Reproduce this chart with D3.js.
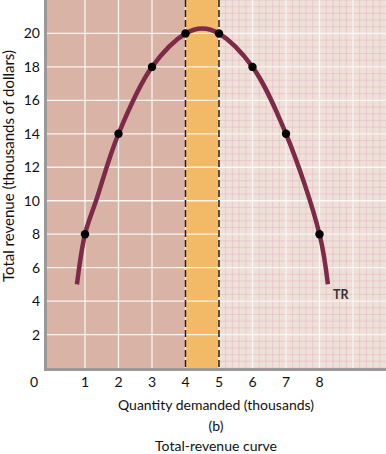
<!DOCTYPE html>
<html>
<head>
<meta charset="utf-8">
<script src="https://cdn.jsdelivr.net/npm/d3@7"></script>
<style>
  body { margin: 0; background: #fff; }
  text { font-family: Lato, "Open Sans", sans-serif; fill: #111; }
</style>
</head>
<body>
<script>
// canvas size
var width = 386
var height = 454

// marked points on the TR curve (quantity, revenue)
const quantities = [1, 2, 3, 4, 5, 6, 7, 8];
const revenues = [8, 14, 18, 20, 20, 18, 14, 8];

// the drawn curve
const curveQ = [0.76, 1, 1.33, 2, 3, 4, 4.5, 5, 6, 7, 8, 8.25];
const curveTR = [5, 8, 10, 14, 18, 20, 20.3, 20, 18, 14, 8, 5];

const xTicks = [1, 2, 3, 4, 5, 6, 7, 8];
const yTicks = [2, 4, 6, 8, 10, 12, 14, 16, 18, 20];

// elastic / unit elastic / inelastic zones
const bandEdges = [4, 5];

const svg = d3.select('body').append('svg')
  .attr('width', width)
  .attr('height', height)

// plot box (not "top": that one is window.top)
var pLeft = 46, pRight = 386, pTop = 0, pBottom = 368

var x = d3.scaleLinear().domain([-0.164, 9.985]).range([pLeft, pRight])
var y = d3.scaleLinear().domain([0, 22]).range([pBottom, pTop])

var defs = svg.append('defs')
defs.append('clipPath').attr('id', 'plot')
  .append('rect').attr('x', pLeft).attr('y', pTop).attr('width', pRight - pLeft).attr('height', pBottom - pTop)

var plot = svg.append('g').attr('clip-path', 'url(#plot)')

// backgrounds
plot.append('rect')
  .attr('x', pLeft).attr('y', pTop)
  .attr('width', x(bandEdges[0]) - pLeft).attr('height', pBottom - pTop)
  .style('fill', '#d9b3a5')
plot.append('rect')
  .attr('x', x(bandEdges[0])).attr('y', pTop)
  .attr('width', x(bandEdges[1]) - x(bandEdges[0])).attr('height', pBottom - pTop)
  .style('fill', '#f2ba66')
plot.append('rect')
  .attr('x', x(bandEdges[1])).attr('y', pTop)
  .attr('width', pRight - x(bandEdges[1])).attr('height', pBottom - pTop)
  .style('fill', '#eee1d7')

// fine pink grid on the right part
var minorX = d3.range(bandEdges[1], 10.01, 0.2)
var minorY = d3.range(0, 22.01, 0.4)
plot.selectAll('.mx').data(minorX).enter().append('line')
  .attr('x1', d => x(d)).attr('x2', d => x(d))
  .attr('y1', pTop).attr('y2', pBottom)
  .style('stroke', '#e9b3cb').style('stroke-width', 0.9).style('opacity', 0.6)
plot.selectAll('.my').data(minorY).enter().append('line')
  .attr('x1', x(bandEdges[1])).attr('x2', pRight)
  .attr('y1', d => y(d)).attr('y2', d => y(d))
  .style('stroke', '#e9b3cb').style('stroke-width', 0.9).style('opacity', 0.6)

// white major grid
var majorX = d3.range(1, 10)
plot.selectAll('.gx').data(majorX).enter().append('line')
  .attr('x1', d => x(d)).attr('x2', d => x(d))
  .attr('y1', pTop).attr('y2', pBottom)
  .style('stroke', '#fff').style('stroke-width', 1.3).style('opacity', 0.85)
plot.selectAll('.gy').data(yTicks).enter().append('line')
  .attr('x1', pLeft).attr('x2', pRight)
  .attr('y1', d => y(d)).attr('y2', d => y(d))
  .style('stroke', '#fff').style('stroke-width', 1.3).style('opacity', 0.85)

// dashed boundaries
plot.selectAll('.dash').data(bandEdges).enter().append('line')
  .attr('x1', d => x(d)).attr('x2', d => x(d))
  .attr('y1', pTop).attr('y2', pBottom)
  .style('stroke', '#2a1a10').style('stroke-width', 1.5)
  .style('stroke-dasharray', '7,3')

// frame: gray left and bottom edge
svg.append('rect').attr('x', pLeft - 2).attr('y', pTop).attr('width', 3).attr('height', pBottom - pTop + 2)
  .style('fill', '#9a9a9a')
svg.append('rect').attr('x', pLeft - 2).attr('y', pBottom).attr('width', pRight - pLeft + 2).attr('height', 3)
  .style('fill', '#9a9a9a')

// TR curve
var line = d3.line()
  .x(d => x(d[0]))
  .y(d => y(d[1]))
  .curve(d3.curveCatmullRom.alpha(0.5))

plot.append('path')
  .datum(d3.zip(curveQ, curveTR))
  .attr('d', line)
  .style('fill', 'none')
  .style('stroke', '#7c2a47')
  .style('stroke-width', 4.5)

plot.selectAll('.pt').data(d3.zip(quantities, revenues)).enter().append('circle')
  .attr('cx', d => x(d[0]))
  .attr('cy', d => y(d[1]))
  .attr('r', 4.2)
  .style('fill', '#000')

svg.append('text')
  .attr('x', 333).attr('y', 299)
  .attr('font-size', '12.5px')
  .attr('font-weight', 'bold')
  .style('fill', '#333')
  .text('TR')

// axes labels
svg.selectAll('.yt').data(yTicks).enter().append('text')
  .attr('x', 40).attr('y', d => y(d) + 5)
  .attr('text-anchor', 'end')
  .attr('font-size', '14px')
  .text(d => d)

svg.selectAll('.xt').data(xTicks).enter().append('text')
  .attr('x', d => x(d)).attr('y', 387)
  .attr('text-anchor', 'middle')
  .attr('font-size', '14px')
  .text(d => d)

svg.append('text')
  .attr('x', 34).attr('y', 387)
  .attr('text-anchor', 'middle')
  .attr('font-size', '14px')
  .text('0')

svg.append('text')
  .attr('x', 216).attr('y', 410)
  .attr('text-anchor', 'middle')
  .attr('font-size', '14px')
  .text('Quantity demanded (thousands)')

svg.append('text')
  .attr('transform', 'translate(14,166) rotate(-90)')
  .attr('text-anchor', 'middle')
  .attr('font-size', '15px')
  .text('Total revenue (thousands of dollars)')

svg.append('text')
  .attr('x', 216).attr('y', 431)
  .attr('text-anchor', 'middle')
  .attr('font-size', '14px')
  .text('(b)')

svg.append('text')
  .attr('x', 216).attr('y', 451)
  .attr('text-anchor', 'middle')
  .attr('font-size', '14px')
  .text('Total-revenue curve')
</script>
</body>
</html>
